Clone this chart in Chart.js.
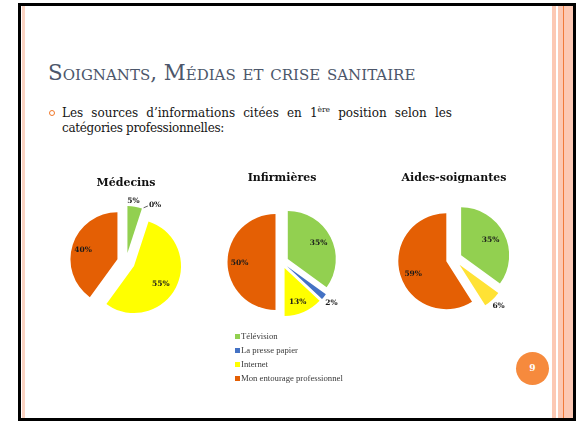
<!DOCTYPE html>
<html lang="fr">
<head>
<meta charset="utf-8">
<title>Soignants, médias et crise sanitaire</title>
<script src="https://cdn.jsdelivr.net/npm/chart.js@4.4.1/dist/chart.umd.min.js"></script>
<style>
  html, body { margin: 0; padding: 0; background: #fff; }
  body { width: 576px; height: 422px; position: relative; overflow: hidden; font-family: "DejaVu Serif", serif; }
  .abs { position: absolute; }
  #frame { left: 18px; top: 3px; width: 558px; height: 418px; box-sizing: border-box; border: 3px solid #000; }
  #stripL { left: 22px; top: 6px; width: 3px; height: 412px; background: #fbd3c2; }
  #bandA { left: 552px; top: 6px; width: 4px; height: 412px; background: #fcc8b3; }
  #bandB { left: 558px; top: 6px; width: 15px; height: 412px; background: #fcc8b3; }
  #bandLine { left: 563px; top: 6px; width: 1px; height: 412px; background: #f07a3a; }
  #heading { left: 48px; top: 62px; font-size: 21.4px; line-height: 22px; font-variant: small-caps; color: #4c566a; white-space: nowrap; }
  #bullet { left: 49px; top: 110px; width: 4px; height: 4px; border: 1.8px solid #f0782a; border-radius: 50%; }
  .line { left: 62px; width: 390px; font-size: 12px; line-height: 14px; color: #151515; white-space: nowrap; }
  #line1 { top: 106px; text-align: justify; text-align-last: justify; white-space: normal; }
  #line2 { top: 121px; letter-spacing: -0.3px; }
  sup { font-size: 7.5px; line-height: 0; vertical-align: 5px; }
  #legend { left: 235px; top: 331px; font-family: "Liberation Serif", serif; font-size: 8.7px; color: #3a3a3a; }
  #legend div { height: 14px; line-height: 10px; white-space: nowrap; }
  #legend span { display: inline-block; width: 5px; height: 5px; margin-right: 1px; vertical-align: 0px; }
  #pageNum { left: 516px; top: 352px; width: 33px; height: 33px; border-radius: 50%; background: #f68a3d; color: #fff; font-weight: bold; font-size: 9px; line-height: 33px; text-align: center; }
  canvas { position: absolute; }
</style>
</head>
<body>
<div class="abs" id="frame"></div>
<div class="abs" id="stripL"></div>
<div class="abs" id="bandA"></div>
<div class="abs" id="bandB"></div>
<div class="abs" id="bandLine"></div>

<div class="abs" id="heading">Soignants, Médias et crise sanitaire</div>
<div class="abs" id="bullet"></div>
<div class="abs line" id="line1">Les sources d’informations citées en 1<sup>ère</sup> position selon les</div>
<div class="abs line" id="line2">catégories professionnelles:</div>

<canvas id="pieMedecins"></canvas>
<canvas id="pieInfirmieres"></canvas>
<canvas id="pieAides"></canvas>

<div class="abs" id="legend"></div>
<div class="abs" id="pageNum">9</div>

<script>
// Data (percent of first-cited source)
const categories = ['Télévision', 'La presse papier', 'Internet', 'Mon entourage professionnel'];
const chartTitles = ['Médecins', 'Infirmières', 'Aides-soignantes'];
const medecins = [5, 0, 55, 40];
const infirmieres = [35, 2, 13, 50];
const aidesSoignantes = [35, null, 6, 59];   // no "presse papier" slice on this one

// Colours
const baseColors = ['#92d050', '#4472c4', '#ffff00', '#e45f04'];
const aidesColors = ['#92d050', '#4472c4', '#ffe235', '#e45f04'];

// Where each pie sits on the slide (centre, radius, explode distance, title line)
const pieBoxes = [
    { id: 'pieMedecins', cx: 126, cy: 262, r: 47, explode: 9, titleY: 183 },
    { id: 'pieInfirmieres', cx: 282, cy: 262, r: 48, explode: 6.5, titleY: 178 },
    { id: 'pieAides', cx: 454, cy: 259, r: 48, explode: 8, titleY: 178 }
];

// Label placement per slice: [radius factor, angle shift in degrees, leader line]
const labelPlaces = [
    [[1.12, -2], [1.17, 9, true], [0.68, 5], [0.76, -2]],
    [[0.72, 0], [1.2, 0], [0.76, 2], [0.75, -1]],
    [[0.69, 0], [0, 0], [1.19, 0], [0.74, -4]]
];

const titleSize = 11;
const titleLine = titleSize * 1.2;

// Exploded pie: every slice pushed out along its middle angle
const explodeSlices = {
    id: 'explodeSlices',
    beforeDatasetDraw(chart, args, opts) {
        const ctx = chart.ctx;
        args.meta.data.forEach(function(arc) {
            const mid = (arc.startAngle + arc.endAngle) / 2;
            ctx.save();
            ctx.translate(Math.cos(mid) * opts.distance, Math.sin(mid) * opts.distance);
            arc.draw(ctx);
            ctx.restore();
        });
        return false;
    }
};

// Percent labels drawn on/around each slice
const pctLabels = {
    id: 'pctLabels',
    afterDraw(chart, args, opts) {
        const ctx = chart.ctx;
        const meta = chart.getDatasetMeta(0);
        const raw = chart.data.datasets[0].data;
        const off = chart.options.plugins.explodeSlices.distance;
        ctx.save();
        ctx.font = 'bold 7.5px "DejaVu Serif"';
        ctx.fillStyle = '#1a1a1a';
        ctx.textAlign = 'center';
        ctx.textBaseline = 'middle';
        meta.data.forEach(function(arc, i) {
            if (raw[i] === null) return;
            const p = opts.place[i];
            const mid = (arc.startAngle + arc.endAngle) / 2;
            const a = mid + p[1] * Math.PI / 180;
            const dist = off + p[0] * arc.outerRadius;
            const x = arc.x + Math.cos(a) * dist;
            const y = arc.y + Math.sin(a) * dist;
            const txt = raw[i] + '%';
            ctx.fillText(txt, x, y);
            if (p[2]) {
                const e = off + arc.outerRadius + 1;
                const tw = ctx.measureText(txt).width;
                ctx.strokeStyle = '#333';
                ctx.lineWidth = 0.8;
                ctx.beginPath();
                ctx.moveTo(arc.x + Math.cos(mid) * e, arc.y + Math.sin(mid) * e);
                ctx.lineTo(x - tw / 2 - 1, y + 1);
                ctx.stroke();
            }
        });
        ctx.restore();
    }
};

function makePie(box, title, values, colors, place) {
    const canvas = document.getElementById(box.id);
    const width = 150;
    const left = Math.round(box.cx - width / 2);
    const top = Math.round(box.titleY - 12);
    const areaTop = box.cy - box.r;
    const areaBottom = box.cy + box.r;
    const height = Math.round(areaBottom + 24 - top);
    const padTop = (box.titleY - top) - titleLine / 2;
    const padBottom = areaTop - (top + padTop + titleLine);

    canvas.width = width;
    canvas.height = height;
    canvas.style.left = left + 'px';
    canvas.style.top = top + 'px';
    canvas.style.width = width + 'px';
    canvas.style.height = height + 'px';

    return new Chart(canvas.getContext('2d'), {
        type: 'pie',
        data: {
            labels: categories,
            datasets: [{
                data: values,
                backgroundColor: colors,
                borderWidth: 0
            }]
        },
        options: {
            responsive: false,
            animation: false,
            devicePixelRatio: 1,
            layout: { padding: { top: 0, left: 0, right: 0, bottom: height - (areaBottom - top) } },
            plugins: {
                legend: { display: false },
                tooltip: { enabled: false },
                title: {
                    display: true,
                    text: title,
                    color: '#111',
                    font: { family: '"DejaVu Serif"', size: titleSize, weight: 'bold', lineHeight: 1.2 },
                    padding: { top: padTop, bottom: padBottom }
                },
                explodeSlices: { distance: box.explode },
                pctLabels: { place: place }
            }
        },
        plugins: [explodeSlices, pctLabels]
    });
}

makePie(pieBoxes[0], chartTitles[0], medecins, baseColors, labelPlaces[0]);
makePie(pieBoxes[1], chartTitles[1], infirmieres, baseColors, labelPlaces[1]);
makePie(pieBoxes[2], chartTitles[2], aidesSoignantes, aidesColors, labelPlaces[2]);

// Shared legend under the middle pie
const legend = document.getElementById('legend');
categories.forEach(function(name, i) {
    const row = document.createElement('div');
    const sw = document.createElement('span');
    sw.style.background = baseColors[i];
    row.appendChild(sw);
    row.appendChild(document.createTextNode(name));
    legend.appendChild(row);
});
</script>
</body>
</html>
